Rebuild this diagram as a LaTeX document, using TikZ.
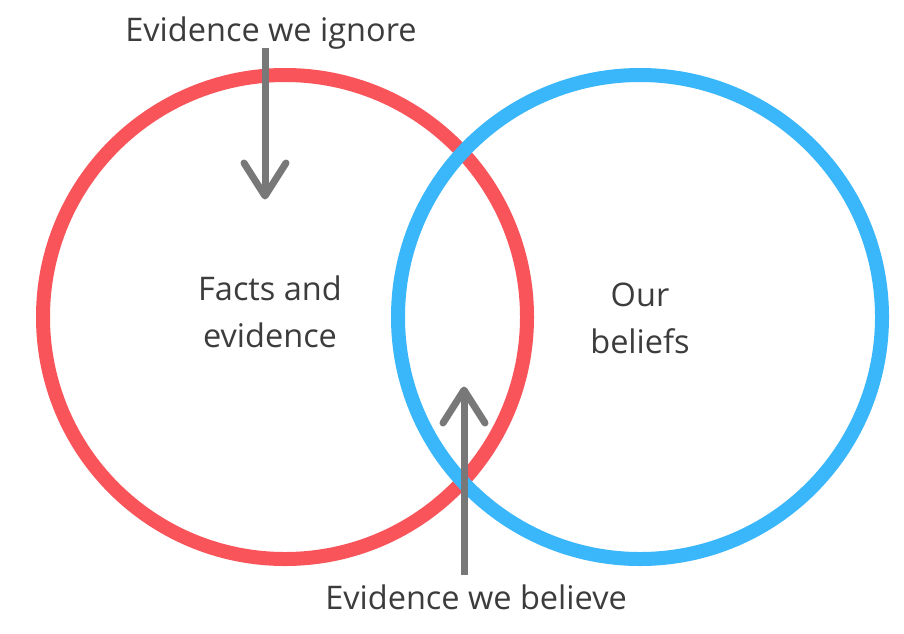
\documentclass[tikz,border=0pt]{standalone}
\usepackage{fontspec}
\setmainfont{Open Sans}
\usetikzlibrary{calc}
\definecolor{vred}{RGB}{249,84,90}
\definecolor{vblue}{RGB}{58,182,250}
\definecolor{agray}{RGB}{120,120,120}
\definecolor{tdark}{RGB}{60,60,60}
\begin{document}
\begin{tikzpicture}[x=1pt,y=-1pt,
  ring/.style={line width=14pt},
  arrowline/.style={draw=agray,line width=7pt,line cap=round,line join=round},
  lbl/.style={text=tdark,font=\fontsize{32.5}{47}\selectfont,inner sep=0pt,align=center,anchor=base}]
\useasboundingbox[fill=white] (0,0) rectangle (904,633);
% circles
\draw[ring,draw=vred] (285,317) circle[radius=242pt];
\draw[ring,draw=vblue] (640,317) circle[radius=242pt];
% labels
\node[lbl] (ignore) at (271,41) {Evidence we ignore};
\node[lbl] (believe) at (476,609) {Evidence we believe};
\node[lbl] (facts) at (270,347) {Facts and\\evidence};
\node[lbl] (beliefs) at (640,353) {Our\\beliefs};
% arrow ends
\coordinate (startA) at (265,48);
\coordinate (tipA) at (265,196);
\coordinate (startB) at (464,575);
\coordinate (tipB) at (464,390);
\draw[arrowline,line cap=butt] (startA) -- (tipA);
\draw[arrowline] ($(tipA)+(-21,-33)$) -- (tipA) -- ($(tipA)+(21,-33)$);
\draw[arrowline,line cap=butt] (startB) -- (tipB);
\draw[arrowline] ($(tipB)+(-21,33)$) -- (tipB) -- ($(tipB)+(21,33)$);
\end{tikzpicture}
\end{document}
